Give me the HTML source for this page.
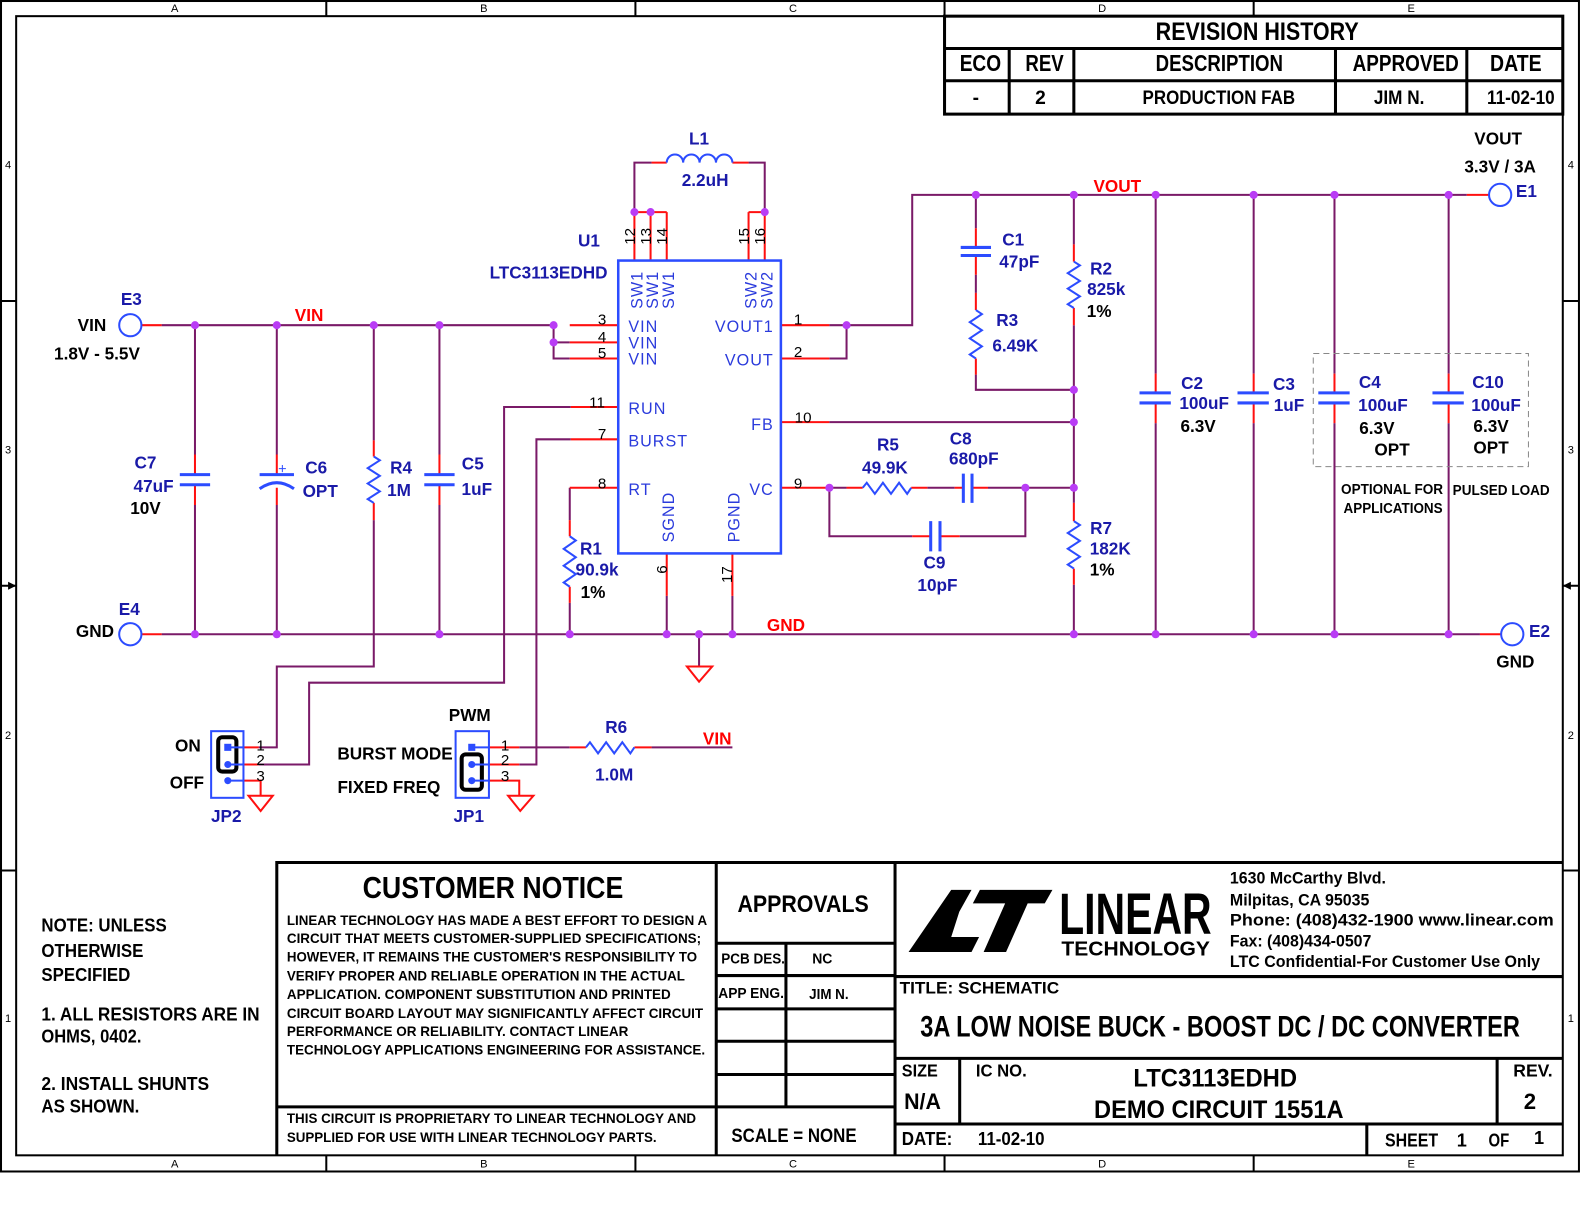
<!DOCTYPE html>
<html>
<head>
<meta charset="utf-8">
<style>
html,body{margin:0;padding:0;background:#fff;}
svg{display:block;}
text{font-family:"Liberation Sans",Arial,sans-serif;}
.b17{font-weight:bold;font-size:17px;}
.bl{fill:#1a1aa8;}
.bk{fill:#000;}
.rd{fill:#ff0000;}
.pin{font-size:16px;fill:#2b3bdc;letter-spacing:1px;}
.num{font-size:15px;fill:#000;}
.tb{font-weight:bold;fill:#000;}
.w{stroke:#7a1a68;stroke-width:2;fill:none;}
.r{stroke:#ff1010;stroke-width:2;fill:none;}
.s{stroke:#2c4cff;stroke-width:2;fill:none;}
.p{stroke:#2c4cff;stroke-width:3;fill:none;}
.k{stroke:#000;fill:none;}
.j{fill:#b93cf5;}
.col{font-size:11px;fill:#000;}
</style>
</head>
<body>
<svg width="1584" height="1224" viewBox="0 0 1568 1212" preserveAspectRatio="none" xmlns="http://www.w3.org/2000/svg">
<rect x="0" y="0" width="1568" height="1212" fill="#fff"/>

<!-- Frames -->
<rect class="k" x="1" y="1" width="1562" height="1159" stroke-width="2"/>
<rect class="k" x="16" y="16" width="1531" height="1128" stroke-width="2"/>
<g class="k" stroke-width="2">
<path d="M323,1V16M629,1V16M935,1V16M1241,1V16"/>
<path d="M323,1144V1160M629,1144V1160M935,1144V1160M1241,1144V1160"/>
<path d="M1,298H16M1,862H16M1,580H16"/>
<path d="M1547,298H1563M1547,862H1563M1547,580H1563"/>
</g>
<polygon points="16,580 8,576 8,584" fill="#000"/>
<polygon points="1547,580 1555,576 1555,584" fill="#000"/>
<g class="col" text-anchor="middle">
<text x="173" y="12">A</text><text x="479" y="12">B</text><text x="785" y="12">C</text><text x="1091" y="12">D</text><text x="1397" y="12">E</text>
<text x="173" y="1156">A</text><text x="479" y="1156">B</text><text x="785" y="1156">C</text><text x="1091" y="1156">D</text><text x="1397" y="1156">E</text>
<text x="8" y="167">4</text><text x="8" y="449">3</text><text x="8" y="732">2</text><text x="8" y="1012">1</text>
<text x="1555" y="167">4</text><text x="1555" y="449">3</text><text x="1555" y="732">2</text><text x="1555" y="1012">1</text>
</g>

<!-- Revision table -->
<g class="k" stroke-width="3">
<rect x="935" y="16" width="612" height="97"/>
<path d="M935,48H1547M935,80H1547M999,48V113M1063,48V113M1322,48V113M1452,48V113"/>
</g>
<g class="tb" text-anchor="middle">
<text x="1244.5" y="39.5" font-size="25" textLength="201" lengthAdjust="spacingAndGlyphs">REVISION HISTORY</text>
<text x="970.5" y="70.5" font-size="23" textLength="41" lengthAdjust="spacingAndGlyphs">ECO</text>
<text x="1034" y="70.5" font-size="23" textLength="38" lengthAdjust="spacingAndGlyphs">REV</text>
<text x="1207" y="70.5" font-size="23" textLength="126" lengthAdjust="spacingAndGlyphs">DESCRIPTION</text>
<text x="1391.5" y="70.5" font-size="23" textLength="105" lengthAdjust="spacingAndGlyphs">APPROVED</text>
<text x="1500.5" y="70.5" font-size="23" textLength="51" lengthAdjust="spacingAndGlyphs">DATE</text>
<text x="966" y="103" font-size="19">-</text>
<text x="1030" y="103" font-size="19">2</text>
<text x="1206.5" y="103" font-size="19" textLength="151" lengthAdjust="spacingAndGlyphs">PRODUCTION FAB</text>
<text x="1385" y="103" font-size="19" textLength="50" lengthAdjust="spacingAndGlyphs">JIM N.</text>
<text x="1505.5" y="103" font-size="19" textLength="67" lengthAdjust="spacingAndGlyphs">11-02-10</text>
</g>

<!-- ===== WIRES ===== -->
<g class="w">
<!-- VIN rail -->
<path d="M160,322H548"/>
<path d="M548,322V355H564M548,339H564"/>
<!-- C7 -->
<path d="M193,322V450M193,500V628"/>
<!-- C6 -->
<path d="M274,322V450M274,500V628"/>
<!-- R4 -->
<path d="M370,322V436M370,515V660H274V740H256"/>
<!-- C5 -->
<path d="M435,322V450M435,500V628"/>
<!-- GND rail -->
<path d="M160,628H1465"/>
<!-- RUN -->
<path d="M565,403H499V676H306V757H256"/>
<!-- BURST -->
<path d="M565,435H531V757H514"/>
<!-- RT / R1 -->
<path d="M564,483V515M564,597V628"/>
<!-- SGND/PGND -->
<path d="M660,590V628M725,590V628"/>
<!-- ground at 692 -->
<path d="M692,628V660"/>
<!-- inductor loop -->
<path d="M628,210V161H645M741,161H757V210"/>
<!-- right side VOUT -->
<path d="M821,322H903V193H1452"/>
<path d="M821,355H838V322"/>
<!-- FB -->
<path d="M821,418H1063"/>
<!-- VC network -->
<path d="M821,483H838M918,483H945M978,483H1063"/>
<path d="M821,483V531H903M950,531H1015V483"/>
<!-- C1/R3 -->
<path d="M966,193V226M966,272V290M966,371V386H1063"/>
<!-- x=1063 -->
<path d="M1063,193V242M1063,322V498M1063,579V628"/>
<!-- output caps -->
<path d="M1144,193V370M1144,419V628"/>
<path d="M1241,193V370M1241,419V628"/>
<path d="M1321,193V370M1321,419V628"/>
<path d="M1434,193V370M1434,419V628"/>
<!-- JP1 pin1 to R6 -->
<path d="M514,740H564M645,740H725"/>
</g>

<!-- red stubs -->
<g class="r">
<path d="M140,322H160M140,628H160M1465,628H1486M1452,193H1474"/>
<path d="M564,322H612M564,339H612M564,355H612"/>
<path d="M565,403H612M565,435H612M564,483H612"/>
<path d="M564,515V531M564,581V597"/>
<path d="M660,548V590M725,548V590"/>
<path d="M628,210V258M644,210V258M660,210V258M741,210V258M757,210V258"/>
<path d="M628,210H660M741,210H757"/>
<path d="M645,161H660M725,161H741"/>
<path d="M773,322H821M773,355H821M773,418H821M773,483H821"/>
<path d="M838,483H854M902,483H918M945,483H953.6M962.2,483H978"/>
<path d="M903,531H921.3M930.5,531H950"/>
<path d="M193,450V470M193,480V500M274,450V470M274,483V500M435,450V470M435,480V500"/>
<path d="M370,436V452M370,498V515"/>
<path d="M966,226V245M966,253V272M966,290V307M966,355V371"/>
<path d="M1063,242V259M1063,305V322M1063,498V516M1063,563V579"/>
<path d="M1144,370V389M1144,399V419M1241,370V389M1241,399V419M1321,370V389M1321,399V419M1434,370V389M1434,399V419"/>
<!-- jumper stubs -->
<path d="M241,740H256M241,757H256M241,773H258V788"/>
<path d="M484,740H514M484,757H514M484,773H514V788"/>
<path d="M564,740H580M628,740H645"/>
<!-- grounds -->
<path d="M680,660H705L692,675Z"/>
<path d="M246,788H270L258,803Z"/>
<path d="M503,788H528L515,803Z"/>
</g>

<!-- ===== SYMBOLS ===== -->
<!-- IC -->
<rect x="612" y="258" width="161" height="290" stroke="#2c4cff" stroke-width="2.5" fill="none"/>
<!-- inductor -->
<path class="s" d="M660,161a8.1,8 0 0 1 16.25,0a8.1,8 0 0 1 16.25,0a8.1,8 0 0 1 16.25,0a8.1,8 0 0 1 16.25,0"/>
<!-- resistors -->
<g class="s">
<polyline points="370,452 376,455.8 364,463.5 376,471.2 364,478.8 376,486.5 364,494.2 370,498"/>
<polyline points="564,531 570,535.2 558,543.5 570,551.8 558,560.2 570,568.5 558,576.8 564,581"/>
<polyline points="966,307 972,311 960,319 972,327 960,335 972,343 960,351 966,355"/>
<polyline points="1063,259 1069,262.8 1057,270.5 1069,278.2 1057,285.8 1069,293.5 1057,301.2 1063,305"/>
<polyline points="1063,516 1069,519.9 1057,527.75 1069,535.6 1057,543.4 1069,551.25 1057,559.1 1063,563"/>
<polyline points="854,483 858,478 866,489 874,478 882,489 890,478 898,489 902,483"/>
<polyline points="580,740 584,735 592,746 600,735 608,746 616,735 624,746 628,740"/>
</g>
<!-- capacitors -->
<g class="p">
<path d="M178,470H208M178,480H208"/>
<path d="M420,470H450M420,480H450"/>
<path d="M257,470H291"/>
<path d="M257,484Q274,472 291,484"/>
<path d="M951,245H981M951,253H981"/>
<path d="M1128,389H1159M1128,399H1159"/>
<path d="M1225,389H1256M1225,399H1256"/>
<path d="M1305,389H1336M1305,399H1336"/>
<path d="M1418,389H1449M1418,399H1449"/>
<path d="M953.6,469V498M962.2,469V498"/>
<path d="M921.3,516V546M930.5,516V546"/>
</g>
<path d="M276,464H283M279.5,460.5V467.5" stroke="#2c4cff" stroke-width="1"/>
<!-- terminals -->
<g stroke="#2c4cff" stroke-width="2" fill="#fff">
<circle cx="129" cy="322" r="11"/>
<circle cx="129" cy="628" r="11"/>
<circle cx="1485" cy="193" r="11"/>
<circle cx="1497" cy="628" r="11"/>
</g>
<!-- dashed box -->
<rect x="1300" y="350" width="213" height="112" fill="none" stroke="#888" stroke-width="1" stroke-dasharray="6,4"/>

<!-- jumpers -->
<rect x="209" y="724" width="32" height="66" fill="none" stroke="#2c4cff" stroke-width="2"/>
<rect x="216" y="730" width="18" height="34" rx="4" fill="none" stroke="#000" stroke-width="4"/>
<path d="M226,740H241M226,757H241M226,773H241" stroke="#2c4cff" stroke-width="2"/>
<rect x="222" y="736.5" width="7" height="7" fill="#2c4cff"/>
<circle cx="225.5" cy="757" r="3.5" fill="#2c4cff"/>
<circle cx="225.5" cy="773" r="3.5" fill="#2c4cff"/>
<rect x="451" y="724" width="33" height="66" fill="none" stroke="#2c4cff" stroke-width="2"/>
<rect x="457" y="747" width="20" height="35" rx="4" fill="none" stroke="#000" stroke-width="4"/>
<path d="M467,740H484M467,757H484M467,773H484" stroke="#2c4cff" stroke-width="2"/>
<rect x="463.5" y="736.5" width="7" height="7" fill="#2c4cff"/>
<circle cx="467" cy="757" r="3.5" fill="#2c4cff"/>
<circle cx="467" cy="773" r="3.5" fill="#2c4cff"/>

<!-- junctions -->
<g class="j">
<circle cx="193" cy="322" r="4"/><circle cx="274" cy="322" r="4"/><circle cx="370" cy="322" r="4"/><circle cx="435" cy="322" r="4"/><circle cx="548" cy="322" r="4"/><circle cx="548" cy="339" r="4"/>
<circle cx="628" cy="210" r="4"/><circle cx="644" cy="210" r="4"/><circle cx="757" cy="210" r="4"/>
<circle cx="838" cy="322" r="4"/><circle cx="821" cy="483" r="4"/><circle cx="1015" cy="483" r="4"/>
<circle cx="1063" cy="483" r="4"/><circle cx="1063" cy="418" r="4"/><circle cx="1063" cy="386" r="4"/>
<circle cx="966" cy="193" r="4"/><circle cx="1063" cy="193" r="4"/><circle cx="1144" cy="193" r="4"/><circle cx="1241" cy="193" r="4"/><circle cx="1321" cy="193" r="4"/><circle cx="1434" cy="193" r="4"/>
<circle cx="193" cy="628" r="4"/><circle cx="274" cy="628" r="4"/><circle cx="435" cy="628" r="4"/><circle cx="564" cy="628" r="4"/><circle cx="660" cy="628" r="4"/><circle cx="692" cy="628" r="4"/><circle cx="725" cy="628" r="4"/>
<circle cx="1063" cy="628" r="4"/><circle cx="1144" cy="628" r="4"/><circle cx="1241" cy="628" r="4"/><circle cx="1321" cy="628" r="4"/><circle cx="1434" cy="628" r="4"/>
</g>

<!-- ===== LABELS ===== -->
<g class="b17 bl" text-anchor="middle">
<text x="130" y="302">E3</text>
<text x="583" y="244">U1</text>
<text x="543" y="276">LTC3113EDHD</text>
<text x="692" y="143">L1</text>
<text x="698" y="184">2.2uH</text>
<text x="1003" y="243">C1</text>
<text x="1009" y="265">47pF</text>
<text x="1090" y="272">R2</text>
<text x="1095" y="292">825k</text>
<text x="997" y="323">R3</text>
<text x="1005" y="348">6.49K</text>
<text x="1180" y="385">C2</text>
<text x="1192" y="405">100uF</text>
<text x="1271" y="386">C3</text>
<text x="1276" y="407">1uF</text>
<text x="1356" y="384">C4</text>
<text x="1369" y="407">100uF</text>
<text x="1473" y="384">C10</text>
<text x="1481" y="407">100uF</text>
<text x="1511" y="195">E1</text>
<text x="879" y="446">R5</text>
<text x="876" y="469">49.9K</text>
<text x="951" y="440">C8</text>
<text x="964" y="460">680pF</text>
<text x="925" y="563">C9</text>
<text x="928" y="585">10pF</text>
<text x="1090" y="529">R7</text>
<text x="1099" y="549">182K</text>
<text x="1524" y="631">E2</text>
<text x="144" y="464">C7</text>
<text x="152" y="487">47uF</text>
<text x="313" y="469">C6</text>
<text x="317" y="492">OPT</text>
<text x="397" y="469">R4</text>
<text x="395" y="491">1M</text>
<text x="468" y="465">C5</text>
<text x="472" y="490">1uF</text>
<text x="585" y="549">R1</text>
<text x="591" y="570">90.9k</text>
<text x="128" y="609">E4</text>
<text x="610" y="726">R6</text>
<text x="608" y="773">1.0M</text>
<text x="224" y="814">JP2</text>
<text x="464" y="814">JP1</text>
</g>
<g class="b17 bk" text-anchor="middle">
<text x="144" y="509">10V</text>
<text x="1088" y="314">1%</text>
<text x="1091" y="570">1%</text>
<text x="587" y="592">1%</text>
<text x="1186" y="428">6.3V</text>
<text x="1363" y="430">6.3V</text>
<text x="1378" y="451">OPT</text>
<text x="1476" y="428">6.3V</text>
<text x="1476" y="449">OPT</text>
<text x="91" y="328">VIN</text>
<text x="96" y="356">1.8V - 5.5V</text>
<text x="94" y="631">GND</text>
<text x="1483" y="143">VOUT</text>
<text x="1485" y="171">3.3V / 3A</text>
<text x="1500" y="661">GND</text>
<text x="186" y="744">ON</text>
<text x="185" y="781">OFF</text>
<text x="465" y="714">PWM</text>
<text x="391" y="752">BURST MODE</text>
<text x="385" y="785">FIXED FREQ</text>
<text x="1378" y="489" font-size="15" textLength="101" lengthAdjust="spacingAndGlyphs">OPTIONAL FOR</text>
<text x="1379" y="508" font-size="15" textLength="98" lengthAdjust="spacingAndGlyphs">APPLICATIONS</text>
<text x="1486" y="490" font-size="15" textLength="96" lengthAdjust="spacingAndGlyphs">PULSED LOAD</text>
</g>
<g class="b17 rd" text-anchor="middle">
<text x="306" y="318">VIN</text>
<text x="1106" y="190">VOUT</text>
<text x="778" y="625">GND</text>
<text x="710" y="737">VIN</text>
</g>

<!-- IC pin names -->
<g class="pin">
<text x="622" y="329">VIN</text>
<text x="622" y="345">VIN</text>
<text x="622" y="361">VIN</text>
<text x="622" y="410">RUN</text>
<text x="622" y="442">BURST</text>
<text x="622" y="490">RT</text>
</g>
<g class="pin" text-anchor="end">
<text x="766" y="329">VOUT1</text>
<text x="766" y="362">VOUT</text>
<text x="766" y="426">FB</text>
<text x="766" y="490">VC</text>
</g>
<g class="pin" text-anchor="middle">
<text transform="translate(636,287) rotate(-90)">SW1</text>
<text transform="translate(651.5,287) rotate(-90)">SW1</text>
<text transform="translate(667.4,287) rotate(-90)">SW1</text>
<text transform="translate(748.8,287) rotate(-90)">SW2</text>
<text transform="translate(764.8,287) rotate(-90)">SW2</text>
<text transform="translate(667.4,512) rotate(-90)">SGND</text>
<text transform="translate(731.8,512) rotate(-90)">PGND</text>
</g>
<!-- pin numbers -->
<g class="num" text-anchor="middle">
<text x="596" y="321.5">3</text>
<text x="596" y="338.5">4</text>
<text x="596" y="354.5">5</text>
<text x="591" y="403.5">11</text>
<text x="596" y="434.5">7</text>
<text x="596" y="483.5">8</text>
<text x="790" y="321.5">1</text>
<text x="790" y="353.5">2</text>
<text x="795" y="418.5">10</text>
<text x="790" y="483.5">9</text>
<text transform="translate(628.4,234) rotate(-90)">12</text>
<text transform="translate(644.6,234) rotate(-90)">13</text>
<text transform="translate(660.4,234) rotate(-90)">14</text>
<text transform="translate(741.2,234) rotate(-90)">15</text>
<text transform="translate(757.1,234) rotate(-90)">16</text>
<text transform="translate(660.4,564) rotate(-90)">6</text>
<text transform="translate(724.8,569) rotate(-90)">17</text>
<text x="258" y="743">1</text>
<text x="258" y="757.5">2</text>
<text x="258" y="773.5">3</text>
<text x="500" y="743">1</text>
<text x="500" y="757.5">2</text>
<text x="500" y="773.5">3</text>
</g>

<!-- ===== TITLE BLOCK ===== -->
<g class="k" stroke-width="3">
<path d="M274,1144V854H1547"/>
<path d="M709,854V1144M886,854V1144M274,1096H886"/>
<path d="M709,934H886M709,966H886M709,999H886M709,1031H886M709,1064H886M778,934V1096"/>
<path d="M886,967H1547M886,1048H1547M886,1113H1547M950,1048V1113M1482,1048V1113M1353,1113V1144"/>
</g>
<g class="tb">
<text x="488" y="889" font-size="30" text-anchor="middle" textLength="258" lengthAdjust="spacingAndGlyphs">CUSTOMER NOTICE</text>
<text x="284" y="916" font-size="14" textLength="416" lengthAdjust="spacingAndGlyphs">LINEAR TECHNOLOGY HAS MADE A BEST EFFORT TO DESIGN A</text>
<text x="284" y="934" font-size="14" textLength="410" lengthAdjust="spacingAndGlyphs">CIRCUIT THAT MEETS CUSTOMER-SUPPLIED SPECIFICATIONS;</text>
<text x="284" y="952" font-size="14" textLength="406" lengthAdjust="spacingAndGlyphs">HOWEVER, IT REMAINS THE CUSTOMER'S RESPONSIBILITY TO</text>
<text x="284" y="971" font-size="14" textLength="394" lengthAdjust="spacingAndGlyphs">VERIFY PROPER AND RELIABLE OPERATION IN THE ACTUAL</text>
<text x="284" y="989" font-size="14" textLength="380" lengthAdjust="spacingAndGlyphs">APPLICATION.  COMPONENT SUBSTITUTION AND PRINTED</text>
<text x="284" y="1008" font-size="14" textLength="412" lengthAdjust="spacingAndGlyphs">CIRCUIT BOARD LAYOUT MAY SIGNIFICANTLY AFFECT CIRCUIT</text>
<text x="284" y="1026" font-size="14" textLength="338" lengthAdjust="spacingAndGlyphs">PERFORMANCE OR RELIABILITY.  CONTACT LINEAR</text>
<text x="284" y="1044" font-size="14" textLength="414" lengthAdjust="spacingAndGlyphs">TECHNOLOGY APPLICATIONS ENGINEERING FOR ASSISTANCE.</text>
<text x="284" y="1112" font-size="14" textLength="405" lengthAdjust="spacingAndGlyphs">THIS CIRCUIT IS PROPRIETARY TO LINEAR TECHNOLOGY AND</text>
<text x="284" y="1131" font-size="14" textLength="366" lengthAdjust="spacingAndGlyphs">SUPPLIED FOR USE WITH LINEAR TECHNOLOGY PARTS.</text>

<text x="795" y="903" font-size="24" text-anchor="middle" textLength="130" lengthAdjust="spacingAndGlyphs">APPROVALS</text>
<text x="714" y="954" font-size="15" textLength="63" lengthAdjust="spacingAndGlyphs">PCB DES.</text>
<text x="804" y="954" font-size="15" textLength="20" lengthAdjust="spacingAndGlyphs">NC</text>
<text x="711" y="988" font-size="15" textLength="65" lengthAdjust="spacingAndGlyphs">APP ENG.</text>
<text x="801" y="989" font-size="15" textLength="39" lengthAdjust="spacingAndGlyphs">JIM N.</text>
<text x="724" y="1131" font-size="19" textLength="124" lengthAdjust="spacingAndGlyphs">SCALE = NONE</text>

<text x="41" y="922.5" font-size="18" textLength="124" lengthAdjust="spacingAndGlyphs">NOTE: UNLESS</text>
<text x="41" y="947.5" font-size="18" textLength="101" lengthAdjust="spacingAndGlyphs">OTHERWISE</text>
<text x="41" y="971.5" font-size="18" textLength="88" lengthAdjust="spacingAndGlyphs">SPECIFIED</text>
<text x="41" y="1010.5" font-size="18" textLength="216" lengthAdjust="spacingAndGlyphs">1.  ALL RESISTORS ARE IN</text>
<text x="41" y="1032.5" font-size="18" textLength="99" lengthAdjust="spacingAndGlyphs">OHMS, 0402.</text>
<text x="41" y="1079.5" font-size="18" textLength="166" lengthAdjust="spacingAndGlyphs">2.  INSTALL SHUNTS</text>
<text x="41" y="1101.5" font-size="18" textLength="97" lengthAdjust="spacingAndGlyphs">AS SHOWN.</text>

<text x="1217.5" y="874.6" font-size="16" textLength="154.5" lengthAdjust="spacingAndGlyphs">1630 McCarthy Blvd.</text>
<text x="1217.5" y="896.5" font-size="16" textLength="138" lengthAdjust="spacingAndGlyphs">Milpitas, CA 95035</text>
<text x="1217.5" y="916.5" font-size="16" textLength="320.5" lengthAdjust="spacingAndGlyphs">Phone: (408)432-1900  www.linear.com</text>
<text x="1217.5" y="937" font-size="16" textLength="140" lengthAdjust="spacingAndGlyphs">Fax: (408)434-0507</text>
<text x="1217.5" y="957.7" font-size="16" textLength="307" lengthAdjust="spacingAndGlyphs">LTC Confidential-For Customer Use Only</text>

<text x="890.5" y="983.6" font-size="16" textLength="158" lengthAdjust="spacingAndGlyphs">TITLE:  SCHEMATIC</text>
<text x="911" y="1026.5" font-size="29" textLength="593.6" lengthAdjust="spacingAndGlyphs">3A LOW NOISE BUCK - BOOST DC / DC CONVERTER</text>
<text x="892.7" y="1066" font-size="17" textLength="35.6" lengthAdjust="spacingAndGlyphs">SIZE</text>
<text x="895" y="1098" font-size="22" textLength="36.4" lengthAdjust="spacingAndGlyphs">N/A</text>
<text x="966" y="1066" font-size="17" textLength="50.4" lengthAdjust="spacingAndGlyphs">IC NO.</text>
<text x="1203" y="1076" font-size="25" text-anchor="middle" textLength="162" lengthAdjust="spacingAndGlyphs">LTC3113EDHD</text>
<text x="1206.5" y="1107" font-size="25" text-anchor="middle" textLength="247" lengthAdjust="spacingAndGlyphs">DEMO CIRCUIT 1551A</text>
<text x="1498" y="1066" font-size="17" textLength="39" lengthAdjust="spacingAndGlyphs">REV.</text>
<text x="1514.5" y="1098" font-size="22" text-anchor="middle">2</text>
<text x="892.7" y="1134" font-size="18" textLength="50" lengthAdjust="spacingAndGlyphs">DATE:</text>
<text x="968" y="1134" font-size="18" textLength="66" lengthAdjust="spacingAndGlyphs">11-02-10</text>
<text x="1371" y="1135.5" font-size="18" textLength="52.6" lengthAdjust="spacingAndGlyphs">SHEET</text>
<text x="1447" y="1135.5" font-size="18" text-anchor="middle">1</text>
<text x="1473.5" y="1135.5" font-size="18" textLength="20.5" lengthAdjust="spacingAndGlyphs">OF</text>
<text x="1523.5" y="1133" font-size="18" text-anchor="middle">1</text>

<text x="1048.4" y="925" font-size="58" textLength="151" lengthAdjust="spacingAndGlyphs">LINEAR</text>
<text x="1050.7" y="946" font-size="20" textLength="147" lengthAdjust="spacingAndGlyphs">TECHNOLOGY</text>
</g>
<!-- LT logo mark -->
<polygon points="941.6,881.2 961.7,881.2 949.6,902.8 941.6,927.8 969.2,927.8 961.7,942.7 899.4,942.7" fill="#000"/>
<polygon points="970,881.2 1041.8,881.2 1034.2,894.5 1017.3,894.5 995.9,942.7 973.7,942.7 995,894.5 963,894.5" fill="#000"/>
</svg>
</body>
</html>
